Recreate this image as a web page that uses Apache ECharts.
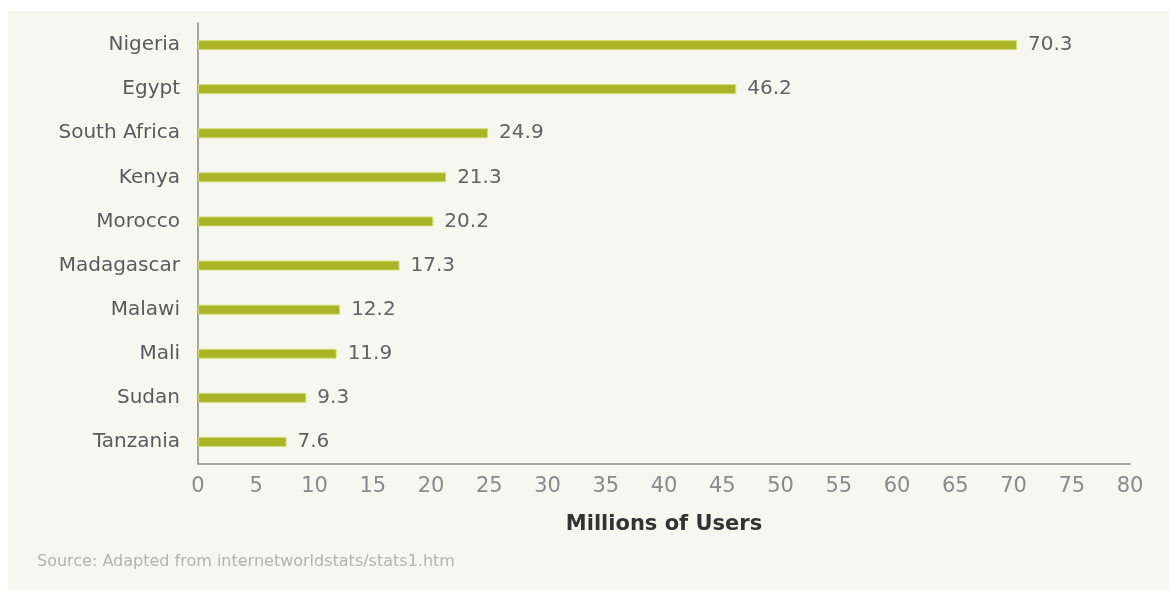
<!DOCTYPE html>
<html>
<head>
<meta charset="utf-8">
<script src="https://cdn.jsdelivr.net/npm/echarts@6/dist/echarts.min.js"></script>
<style>
  html, body { margin: 0; padding: 0; background: #ffffff; width: 1169px; height: 590px; overflow: hidden; }
  #chart { position: absolute; left: 8px; top: 11px; width: 1161px; height: 579px; background: #f6f7ef; }
</style>
</head>
<body>
<div id="chart"></div>
<script>
const countries = ["Nigeria", "Egypt", "South Africa", "Kenya", "Morocco", "Madagascar", "Malawi", "Mali", "Sudan", "Tanzania"];
const users = [70.3, 46.2, 24.9, 21.3, 20.2, 17.3, 12.2, 11.9, 9.3, 7.6];
const xTicks = [0, 5, 10, 15, 20, 25, 30, 35, 40, 45, 50, 55, 60, 65, 70, 75, 80];
const axisTitle = "Millions of Users";
const sourceNote = "Source: Adapted from internetworldstats/stats1.htm";

const chart = echarts.init(document.getElementById('chart'), null, { renderer: 'canvas' });
const font = "'DejaVu Sans', 'Liberation Sans', sans-serif";
chart.setOption({
  animation: false,
  backgroundColor: 'transparent',
  grid: { left: 190, top: 12, right: 39, bottom: 126, containLabel: false },
  xAxis: {
    type: 'value',
    min: xTicks[0],
    max: xTicks[xTicks.length - 1],
    interval: xTicks[1] - xTicks[0],
    axisLine: { show: true, lineStyle: { color: '#8a8a86', width: 1.5 } },
    axisTick: { show: false },
    splitLine: { show: false },
    axisLabel: { color: '#8a8a8a', fontSize: 21, fontFamily: font, margin: 12 },
    name: axisTitle,
    nameLocation: 'middle',
    nameGap: 50,
    nameTextStyle: { color: '#333333', fontSize: 21, fontWeight: 'bold', fontFamily: font }
  },
  yAxis: {
    type: 'category',
    data: countries,
    inverse: true,
    axisLine: { show: true, lineStyle: { color: '#8a8a86', width: 1.5 } },
    axisTick: { show: false },
    splitLine: { show: false },
    axisLabel: { color: '#5a5a5a', fontSize: 20, fontFamily: font, margin: 18 }
  },
  series: [{
    type: 'bar',
    data: users,
    barWidth: 10,
    itemStyle: { color: '#a9b526', borderColor: '#d3dc74', borderWidth: 1 },
    label: {
      show: true,
      position: 'right',
      distance: 11,
      color: '#626262',
      fontSize: 20,
      fontFamily: font,
      formatter: p => p.value.toFixed(1)
    }
  }],
  graphic: [{
    type: 'text',
    left: 29,
    top: 543,
    style: { text: sourceNote, fill: '#b3b3ab', fontSize: 16, fontFamily: font }
  }]
});
</script>
</body>
</html>
